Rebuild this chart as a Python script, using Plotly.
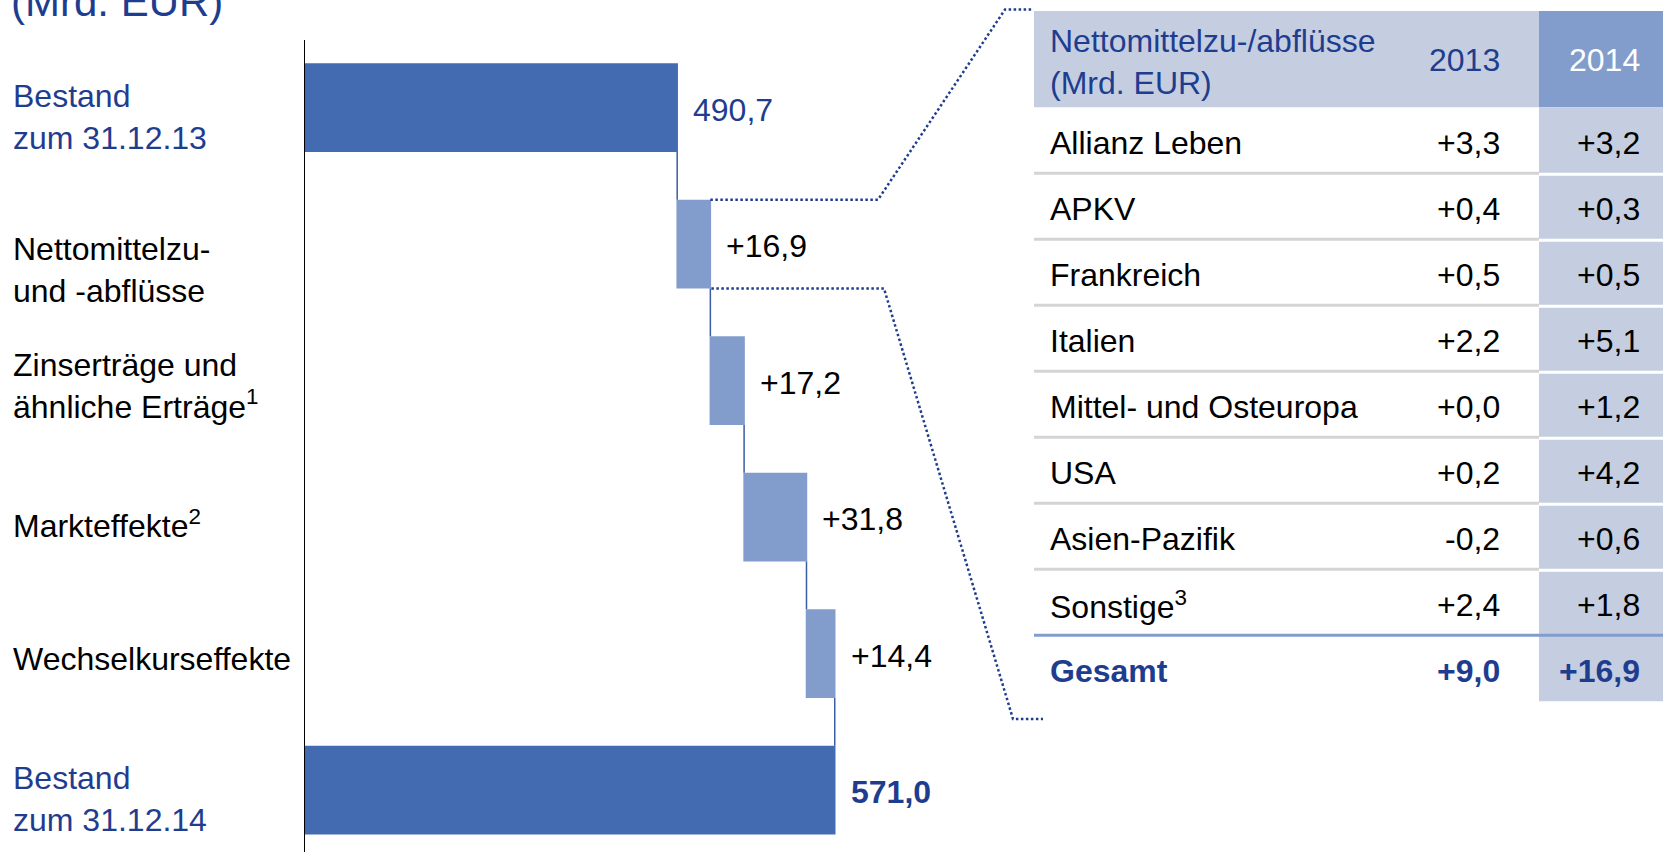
import plotly.graph_objects as go

# ---------------------------------------------------------------------------
# Data (Mrd. EUR)
# ---------------------------------------------------------------------------
steps = [
    "Bestand zum 31.12.13",
    "Nettomittelzu- und -abflüsse",
    "Zinserträge und ähnliche Erträge",
    "Markteffekte",
    "Wechselkurseffekte",
    "Bestand zum 31.12.14",
]
step_labels = [
    "Bestand<br>zum 31.12.13",
    "Nettomittelzu-<br>und -abflüsse",
    "Zinserträge und<br>ähnliche Erträge<sup>1</sup>",
    "Markteffekte<sup>2</sup>",
    "Wechselkurseffekte",
    "Bestand<br>zum 31.12.14",
]
step_values = [490.7, 16.9, 17.2, 31.8, 14.4, 571.0]
step_measures = ["absolute", "relative", "relative", "relative", "relative", "total"]

table_title = "Nettomittelzu-/abflüsse<br>(Mrd. EUR)"
years = ["2013", "2014"]
regions = [
    "Allianz Leben",
    "APKV",
    "Frankreich",
    "Italien",
    "Mittel- und Osteuropa",
    "USA",
    "Asien-Pazifik",
    "Sonstige<sup>3</sup>",
]
flows_2013 = [3.3, 0.4, 0.5, 2.2, 0.0, 0.2, -0.2, 2.4]
flows_2014 = [3.2, 0.3, 0.5, 5.1, 1.2, 4.2, 0.6, 1.8]
total_label = "Gesamt"
total_2013 = 9.0
total_2014 = 16.9

# ---------------------------------------------------------------------------
# Styling / layout constants
# ---------------------------------------------------------------------------
W, H = 1663, 852
FONT = "Liberation Sans, Arial, sans-serif"
FS = 32
BLUE_TEXT = "#1F3D8F"
DARK_BAR = "#436BB1"
LIGHT_BAR = "#829CCB"
CONNECTOR = "#3A5BA6"
HEADER_BG = "#C5CEE1"
GRAY_LINE = "#D4D4D4"

AXIS_PX = 305          # pixel x of the value axis line
X_MIN = 301.0          # value at the axis line
PX_PER_UNIT = 1.962
Y_TOP_PX = 40
Y_RANGE = [5.453, -0.495]
BAR_WIDTH = 0.65


def px(x):
    return x / W


def py(y):
    return 1 - y / H


def value_to_px(v):
    return AXIS_PX + (v - X_MIN) * PX_PER_UNIT


def cat_to_px(i):
    return Y_TOP_PX + (i - Y_RANGE[1]) * (H - Y_TOP_PX) / (Y_RANGE[0] - Y_RANGE[1])


def de(v, signed=False):
    s = f"{v:+.1f}" if signed else f"{v:.1f}"
    return s.replace(".", ",")


# ---------------------------------------------------------------------------
# Waterfall
# ---------------------------------------------------------------------------
fig = go.Figure(
    go.Waterfall(
        orientation="h",
        y=steps,
        x=step_values,
        measure=step_measures,
        width=BAR_WIDTH,
        increasing=dict(marker=dict(color=LIGHT_BAR)),
        decreasing=dict(marker=dict(color=LIGHT_BAR)),
        totals=dict(marker=dict(color=DARK_BAR)),
        connector=dict(mode="between", line=dict(color=CONNECTOR, width=1.5)),
        textposition="none",
        hoverinfo="skip",
    )
)

annotations = []
shapes = []

# value labels at the end of each bar
running = 0.0
ends = []
for i, (v, m) in enumerate(zip(step_values, step_measures)):
    if m == "absolute":
        running = v
    elif m == "relative":
        running += v
    ends.append(running)
    if m == "relative":
        txt, col = de(v, signed=True), "#000000"
    elif m == "total":
        txt, col = "<b>" + de(running) + "</b>", BLUE_TEXT
    else:
        txt, col = de(v), BLUE_TEXT
    annotations.append(dict(
        x=running, y=steps[i], xref="x", yref="y",
        text=txt, showarrow=False, xanchor="left", yanchor="middle",
        xshift=14, yshift=-2,
        font=dict(family=FONT, size=FS, color=col),
    ))

# category labels on the left
label_mid_px = [116.7, 270.4, 386.1, 523.6, 659.3, 799.4]
for i, lab in enumerate(step_labels):
    col = BLUE_TEXT if step_measures[i] != "relative" else "#000000"
    annotations.append(dict(
        x=px(11), y=py(label_mid_px[i]), xref="paper", yref="paper",
        text=lab, showarrow=False, xanchor="left", yanchor="middle", align="left",
        font=dict(family=FONT, size=FS, color=col),
    ))

# unit title (partly above the canvas)
annotations.append(dict(
    x=px(9), y=py(1.1), xref="paper", yref="paper",
    text="(Mrd. EUR)", showarrow=False, xanchor="left", yanchor="middle",
    font=dict(family=FONT, size=42, color=BLUE_TEXT),
))

# ---------------------------------------------------------------------------
# Detail table for net flows
# ---------------------------------------------------------------------------
T_LEFT, T_COL3, T_RIGHT = 1034, 1539, 1663
T_HEAD_TOP, T_HEAD_BOT = 11, 107.3
ROW_H = 66
n_rows = len(regions) + 1
T_BOTTOM = T_HEAD_BOT + n_rows * ROW_H
X_LABEL = 1048
X_2013 = 1502
X_2014 = 1642


def rect(x0, y0, x1, y1, color):
    return dict(type="rect", xref="paper", yref="paper",
                x0=px(x0), x1=px(x1), y0=py(y1), y1=py(y0),
                fillcolor=color, line=dict(width=0), layer="below")


def hline(x0, x1, y, color, width=3):
    return dict(type="line", xref="paper", yref="paper",
                x0=px(x0), x1=px(x1), y0=py(y), y1=py(y),
                line=dict(color=color, width=width), layer="above")


shapes.append(rect(T_LEFT, T_HEAD_TOP, T_COL3, T_HEAD_BOT, HEADER_BG))
shapes.append(rect(T_COL3, T_HEAD_TOP, T_RIGHT, T_HEAD_BOT, LIGHT_BAR))
shapes.append(rect(T_COL3, T_HEAD_BOT, T_RIGHT, T_BOTTOM, HEADER_BG))

for k in range(1, n_rows):
    yb = T_HEAD_BOT + k * ROW_H
    if k < n_rows - 1:
        shapes.append(hline(T_LEFT, T_COL3, yb, GRAY_LINE))
        shapes.append(hline(T_COL3, T_RIGHT, yb + 1, "#FFFFFF"))
    else:
        shapes.append(hline(T_LEFT, T_RIGHT, yb, LIGHT_BAR))

# header text
annotations.append(dict(
    x=px(X_LABEL), y=py(62.1), xref="paper", yref="paper", text=table_title,
    showarrow=False, xanchor="left", yanchor="middle", align="left",
    font=dict(family=FONT, size=FS, color=BLUE_TEXT),
))
for yr, xr, col in zip(years, [X_2013, X_2014], [BLUE_TEXT, "#FFFFFF"]):
    annotations.append(dict(
        x=px(xr), y=py(60.3), xref="paper", yref="paper", text=yr,
        showarrow=False, xanchor="right", yanchor="middle",
        font=dict(family=FONT, size=FS, color=col),
    ))

# body rows
row_texts = [(r, de(a, True), de(b, True), False) for r, a, b in zip(regions, flows_2013, flows_2014)]
row_texts.append((total_label, de(total_2013, True), de(total_2014, True), True))
for k, (lab, v13, v14, bold) in enumerate(row_texts):
    ymid = T_HEAD_BOT + k * ROW_H + 36.0
    col = BLUE_TEXT if bold else "#000000"
    wrap = (lambda s: "<b>" + s + "</b>") if bold else (lambda s: s)
    for txt, xx, anc in [(lab, X_LABEL, "left"), (v13, X_2013, "right"), (v14, X_2014, "right")]:
        annotations.append(dict(
            x=px(xx), y=py(ymid), xref="paper", yref="paper", text=wrap(txt),
            showarrow=False, xanchor=anc, yanchor="middle",
            font=dict(family=FONT, size=FS, color=col),
        ))

# dotted zoom lines from the net-flow bar to the table
flow_idx = 1
bx = value_to_px(ends[flow_idx])
half = BAR_WIDTH / 2
top_y = cat_to_px(flow_idx - half)
bot_y = cat_to_px(flow_idx + half)
zoom_paths = [
    [(bx, top_y), (878, top_y), (1005, 9.5), (1032, 9.5)],
    [(bx + 1, bot_y), (884, bot_y), (1013, 719), (1043, 719)],
]
for pts in zoom_paths:
    path = "M " + " L ".join(f"{px(x):.5f},{py(y):.5f}" for x, y in pts)
    shapes.append(dict(type="path", xref="paper", yref="paper", path=path,
                       line=dict(color=BLUE_TEXT, width=2.5, dash="2.5px,2.5px"),
                       layer="above"))

fig.update_layout(
    width=W, height=H,
    margin=dict(l=0, r=0, t=0, b=0),
    paper_bgcolor="white", plot_bgcolor="white",
    showlegend=False,
    xaxis=dict(domain=[px(AXIS_PX), 1], range=[X_MIN, X_MIN + (W - AXIS_PX) / PX_PER_UNIT],
               showgrid=False, zeroline=False, showticklabels=False, showline=False, ticks=""),
    yaxis=dict(domain=[0, py(Y_TOP_PX)], range=Y_RANGE, type="category",
               showgrid=False, zeroline=False, showticklabels=False, ticks="",
               showline=True, linecolor="#000000", linewidth=1.3),
    annotations=annotations,
    shapes=shapes,
    font=dict(family=FONT),
)

fig.write_html("out.html")
